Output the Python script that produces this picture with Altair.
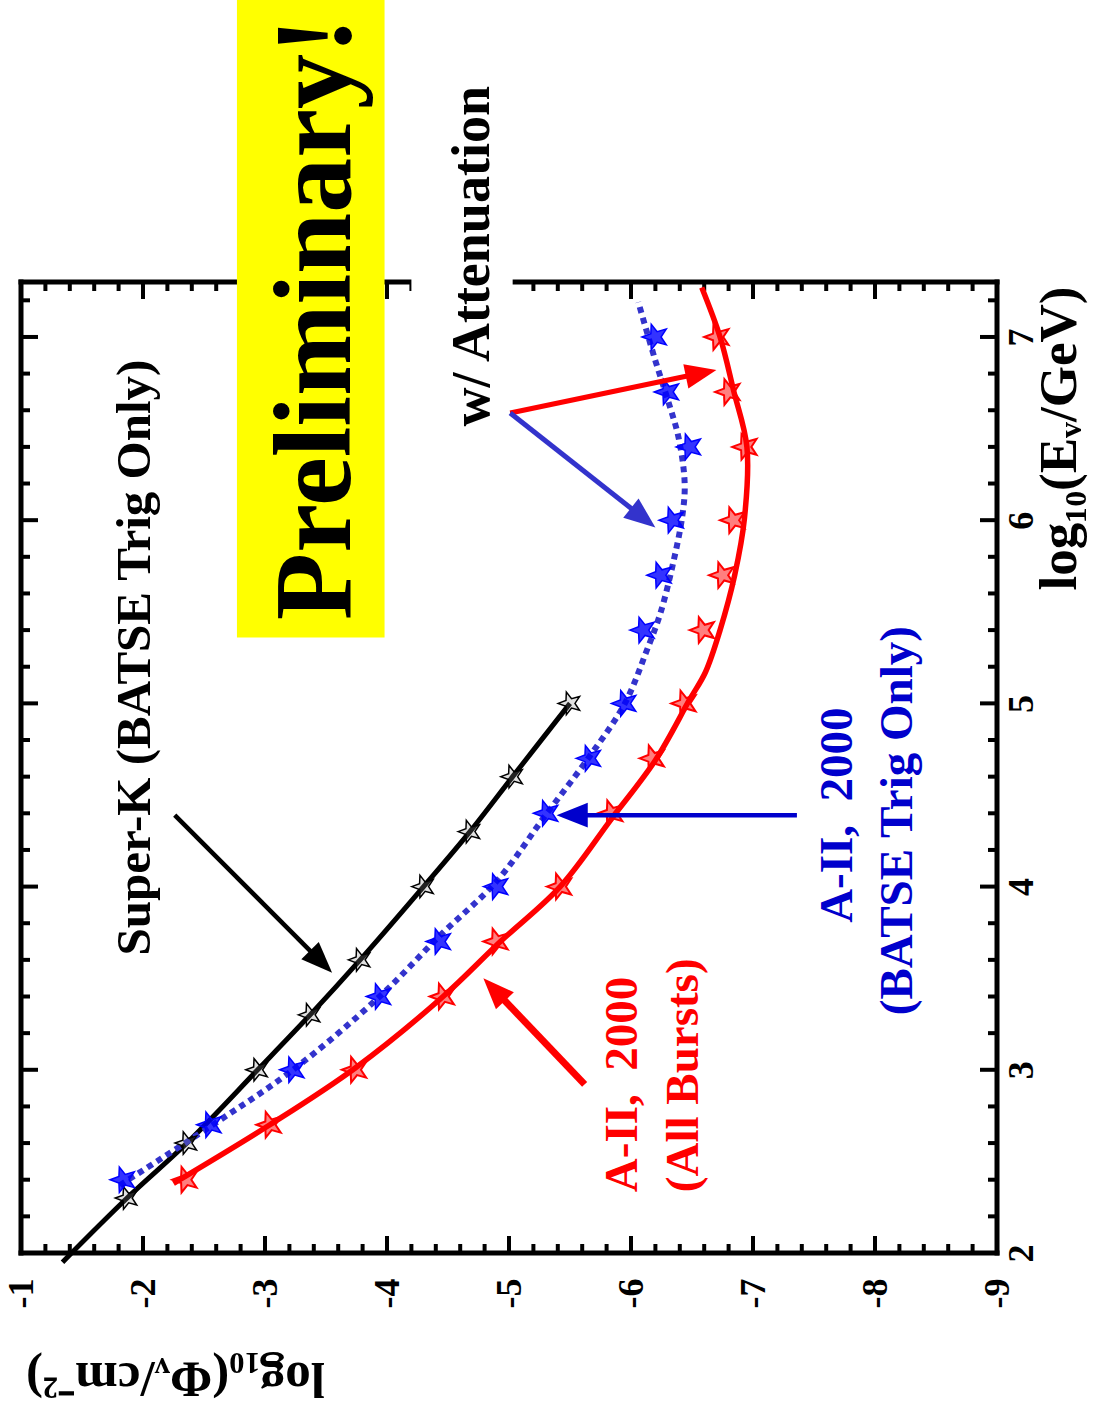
import math
import altair as alt
import pandas as pd

# ---------------- data ----------------
phi_labels = [-1, -2, -3, -4, -5, -6, -7, -8, -9]
e_labels = [2, 3, 4, 5, 6, 7]

# Super-K (BATSE trig only): stars and line
sk_E = [2.3, 2.6, 3.0, 3.3, 3.6, 4.0, 4.3, 4.6, 5.0]
sk_phi = [-1.87, -2.36, -2.94, -3.37, -3.78, -4.30, -4.68, -5.03, -5.50]
sk_line_E = [1.95, 2.3, 2.6, 3.0, 3.3, 3.6, 4.0, 4.3, 4.6, 5.0]
sk_line_phi = [-1.34, -1.87, -2.36, -2.94, -3.37, -3.78, -4.30, -4.68, -5.03, -5.50]

# AMANDA-II 2000 stars (shared energies)
a2_E = [2.4, 2.7, 3.0, 3.4, 3.7, 4.0, 4.4, 4.7, 5.0, 5.4, 5.7, 6.0, 6.4, 6.7, 7.0]
batse_phi = [-1.84, -2.55, -3.23, -3.94, -4.43, -4.90, -5.31, -5.66, -5.95,
             -6.10, -6.24, -6.34, -6.48, -6.30, -6.20]
all_phi = [-2.35, -3.04, -3.74, -4.46, -4.90, -5.42, -5.84, -6.18, -6.44,
           -6.59, -6.75, -6.84, -6.94, -6.80, -6.71]

# curves (with attenuation)
all_line_E = [2.38, 2.70, 3.01, 3.40, 3.70, 4.00, 4.37, 4.69, 5.02, 5.17,
              5.40, 5.70, 6.01, 6.40, 6.71, 7.00, 7.27]
all_line_phi = [-2.25, -3.04, -3.74, -4.46, -4.93, -5.42, -5.84, -6.20, -6.48, -6.61,
                -6.73, -6.85, -6.93, -6.95, -6.84, -6.73, -6.58]
batse_line_E = [2.37, 2.69, 3.00, 3.40, 3.73, 4.03, 4.39, 4.71, 5.00, 5.29,
                5.49, 5.75, 6.02, 6.20, 6.45, 6.66, 6.87, 7.19]
batse_line_phi = [-1.81, -2.55, -3.23, -3.94, -4.43, -4.90, -5.30, -5.66, -5.95, -6.13,
                  -6.24, -6.34, -6.42, -6.44, -6.39, -6.30, -6.20, -6.06]

# annotations (data coordinates)
NB = "\u00a0"
ann_text = ["Preliminary!", "w/ Attenuation", "Super-K (BATSE Trig Only)",
            "A-II," + NB + NB + "2000", "(All Bursts)", "A-II," + NB + NB + "2000",
            "(BATSE Trig Only)"]
ann_phi = [-3.70, -4.84, -2.06, -6.05, -6.55, -7.81, -8.30]
ann_E = [7.10, 7.44, 5.25, 2.92, 2.97, 4.39, 4.36]
ann_color = ["#000000", "#000000", "#000000", "#FF0000", "#FF0000", "#0000CC", "#0000CC"]
ann_size = [110, 54, 49, 47, 47, 47, 47]

arrow_tail_phi = [-2.26, -7.36, -5.62, -5.01, -5.01]
arrow_tail_E = [4.39, 4.39, 2.92, 6.585, 6.585]
arrow_head_phi = [-3.55, -5.39, -4.79, -6.70, -6.20]
arrow_head_E = [3.53, 4.39, 3.50, 6.82, 5.96]
arrow_color = ["#000000", "#0000CC", "#FF0000", "#FF0000", "#3333CC"]
arrow_width = [4.5, 4.5, 7, 5, 5]

box_phi1 = [-2.77, -4.20]
box_phi2 = [-3.98, -5.03]
box_E1 = [5.36, 7.19]
box_E2 = [8.84, 7.36]
box_color = ["#FFFF00", "#FFFFFF"]

# ---------------- layout ----------------
W, H = 976, 971
PHI_MIN, PHI_MAX = -9, -1
E_MIN, E_MAX = 2, 7.3
PX_PHI = W / (PHI_MAX - PHI_MIN)
PX_E = H / (E_MAX - E_MIN)
SERIF = "Liberation Serif"

xscale = alt.Scale(domain=[PHI_MIN, PHI_MAX], reverse=True, nice=False, zero=False)
yscale = alt.Scale(domain=[E_MIN, E_MAX], nice=False, zero=False)

xaxis = alt.Axis(orient="bottom", values=phi_labels,
                 labelExpr="'-' + abs(datum.value)",
                 labelAngle=270, labelAlign="right", labelBaseline="middle",
                 labelPadding=25, labelFont=SERIF, labelFontSize=36,
                 labelFontWeight="bold", labelColor="black",
                 labelFlush=False, labelOverlap=False, labelBound=False,
                 ticks=False, tickSize=0, domain=False, grid=False,
                 title="log₁₀(Φᵥ/cm⁻²)", titleFont=SERIF, titleFontSize=51,
                 titleFontWeight="bold", titleColor="black", titleAngle=180,
                 titleAlign="center", titleBaseline="middle", titleX=154, titleY=124)
yaxis = alt.Axis(orient="right", values=e_labels, format="d",
                 labelAngle=270, labelAlign="center", labelBaseline="top",
                 labelPadding=7, labelFont=SERIF, labelFontSize=36,
                 labelFontWeight="bold", labelColor="black",
                 labelFlush=False, labelOverlap=False, labelBound=False,
                 ticks=False, tickSize=0, domain=False, grid=False,
                 title="log₁₀(Eᵥ/GeV)", titleFont=SERIF, titleFontSize=53,
                 titleFontWeight="bold", titleColor="black", titleAngle=270,
                 titleAlign="center", titleBaseline="alphabetic", titleX=78, titleY=156)


def X(f="phi"):
    return alt.X(f"{f}:Q", scale=xscale, axis=xaxis)


def Y(f="E"):
    return alt.Y(f"{f}:Q", scale=yscale, axis=yaxis)


one = pd.DataFrame({"k": [0]})

# frame
frame_top = alt.Chart(one).mark_rule(color="black", strokeWidth=5, strokeCap="square").encode(
    x=alt.value(0), x2=alt.value(W), y=alt.value(0))
frame_bot = alt.Chart(one).mark_rule(color="black", strokeWidth=5, strokeCap="square").encode(
    x=alt.value(0), x2=alt.value(W), y=alt.value(H))
frame_left = alt.Chart(one).mark_rule(color="black", strokeWidth=5, strokeCap="square").encode(
    x=alt.value(0), y=alt.value(0), y2=alt.value(H))
frame_right = alt.Chart(one).mark_rule(color="black", strokeWidth=5, strokeCap="square").encode(
    x=alt.value(W), y=alt.value(0), y2=alt.value(H))

# ticks
phi_minor = [round(-1 - 0.2 * i, 2) for i in range(1, 40) if i % 5 != 0]
e_minor = [round(2 + 0.2 * i, 2) for i in range(1, 27) if i % 5 != 0]
phi_major_df = pd.DataFrame({"phi": phi_labels})
phi_minor_df = pd.DataFrame({"phi": phi_minor})
e_major_df = pd.DataFrame({"E": e_labels})
e_minor_df = pd.DataFrame({"E": e_minor})

tick_layers = []
for df, ln in [(phi_major_df, 17), (phi_minor_df, 9)]:
    tick_layers.append(alt.Chart(df).mark_rule(color="black", strokeWidth=4).encode(
        x=X(), y=alt.value(H), y2=alt.value(H - ln)))
    tick_layers.append(alt.Chart(df).mark_rule(color="black", strokeWidth=4).encode(
        x=X(), y=alt.value(0), y2=alt.value(ln)))
for df, ln in [(e_major_df, 17), (e_minor_df, 9)]:
    tick_layers.append(alt.Chart(df).mark_rule(color="black", strokeWidth=4).encode(
        y=Y(), x=alt.value(0), x2=alt.value(ln)))
    tick_layers.append(alt.Chart(df).mark_rule(color="black", strokeWidth=4).encode(
        y=Y(), x=alt.value(W), x2=alt.value(W - ln)))

# lines
def line_df(phi, E):
    return pd.DataFrame({"phi": phi, "E": E, "i": list(range(len(phi)))})

sk_line = alt.Chart(line_df(sk_line_phi, sk_line_E)).mark_line(
    color="black", strokeWidth=5, interpolate="catmull-rom", clip=False).encode(
    x=X(), y=Y(), order="i:Q")
all_line = alt.Chart(line_df(all_line_phi, all_line_E)).mark_line(
    color="#FF0000", strokeWidth=5.5, interpolate="catmull-rom").encode(
    x=X(), y=Y(), order="i:Q")
batse_line = alt.Chart(line_df(batse_line_phi, batse_line_E)).mark_line(
    color="#3333CC", strokeWidth=6, strokeDash=[6, 5], interpolate="catmull-rom").encode(
    x=X(), y=Y(), order="i:Q")

# star symbol (pointing left, as in the rotated figure)
pts = []
for k in range(10):
    r = 1.0 if k % 2 == 0 else 0.42
    t = math.radians(180 + 36 * k)
    pts.append(f"{r * math.cos(t):.3f},{r * math.sin(t):.3f}")
STAR = "M" + "L".join(pts) + "Z"

sk_stars = alt.Chart(pd.DataFrame({"phi": sk_phi, "E": sk_E})).mark_point(
    shape=STAR, size=560, filled=True, fill="#888888", fillOpacity=0.25,
    stroke="black", strokeWidth=1.5, opacity=1).encode(x=X(), y=Y())
all_stars = alt.Chart(pd.DataFrame({"phi": all_phi, "E": a2_E})).mark_point(
    shape=STAR, size=720, filled=True, fill="#FF0000", fillOpacity=0.5,
    stroke="#FF0000", strokeWidth=2, opacity=1).encode(x=X(), y=Y())
batse_stars = alt.Chart(pd.DataFrame({"phi": batse_phi, "E": a2_E})).mark_point(
    shape=STAR, size=720, filled=True, fill="#0000FF", fillOpacity=0.8,
    stroke="#0000FF", strokeWidth=1.5, opacity=1).encode(x=X(), y=Y())

# arrows
rows = []
for tp, te, hp, he, c, w in zip(arrow_tail_phi, arrow_tail_E, arrow_head_phi,
                                arrow_head_E, arrow_color, arrow_width):
    dx = -(hp - tp) * PX_PHI
    dy = -(he - te) * PX_E
    L = math.hypot(dx, dy)
    ux, uy = dx / L, dy / L
    back = 20
    rows.append({"phi": tp, "E": te, "phi2": hp + back * ux / PX_PHI,
                 "E2": he + back * uy / PX_E, "hphi": hp, "hE": he,
                 "ang": math.degrees(math.atan2(dx, -dy)) % 360,
                 "col": c, "w": w})
arrows = pd.DataFrame(rows)
shafts = alt.Chart(arrows).mark_rule(strokeCap="butt").encode(
    x=X(), y=Y(), x2="phi2:Q", y2="E2:Q",
    color=alt.Color("col:N", scale=None),
    strokeWidth=alt.StrokeWidth("w:Q", scale=None))
HEAD = "M0,0L0.95,2.4L-0.95,2.4Z"
heads = alt.Chart(arrows).mark_point(shape=HEAD, size=676, filled=True, opacity=1).encode(
    x=X("hphi"), y=Y("hE"),
    angle=alt.Angle("ang:Q", scale=None),
    color=alt.Color("col:N", scale=None))

# boxes
boxes = alt.Chart(pd.DataFrame({"phi": box_phi1, "phi2": box_phi2, "E": box_E1,
                                "E2": box_E2, "col": box_color})).mark_rect(clip=False).encode(
    x=X(), x2="phi2:Q", y=Y(), y2="E2:Q", color=alt.Color("col:N", scale=None))

# texts
texts = alt.Chart(pd.DataFrame({"t": ann_text, "phi": ann_phi, "E": ann_E,
                                "col": ann_color, "s": ann_size})).mark_text(
    angle=270, font=SERIF, fontWeight="bold", align="center", baseline="alphabetic").encode(
    x=X(), y=Y(), text="t:N", color=alt.Color("col:N", scale=None),
    size=alt.Size("s:Q", scale=None))

chart = alt.layer(
    sk_line, frame_top, frame_bot, frame_left, frame_right, *tick_layers,
    all_line, batse_line, sk_stars, all_stars, batse_stars,
    shafts, heads, boxes, texts
).properties(
    width=W, height=H,
    autosize=alt.AutoSizeParams(type="none"),
    padding={"left": 21, "top": 282, "right": 98, "bottom": 163},
).configure_view(strokeWidth=0)

chart.save("out.html", embed_options={"renderer": "svg", "actions": False})
